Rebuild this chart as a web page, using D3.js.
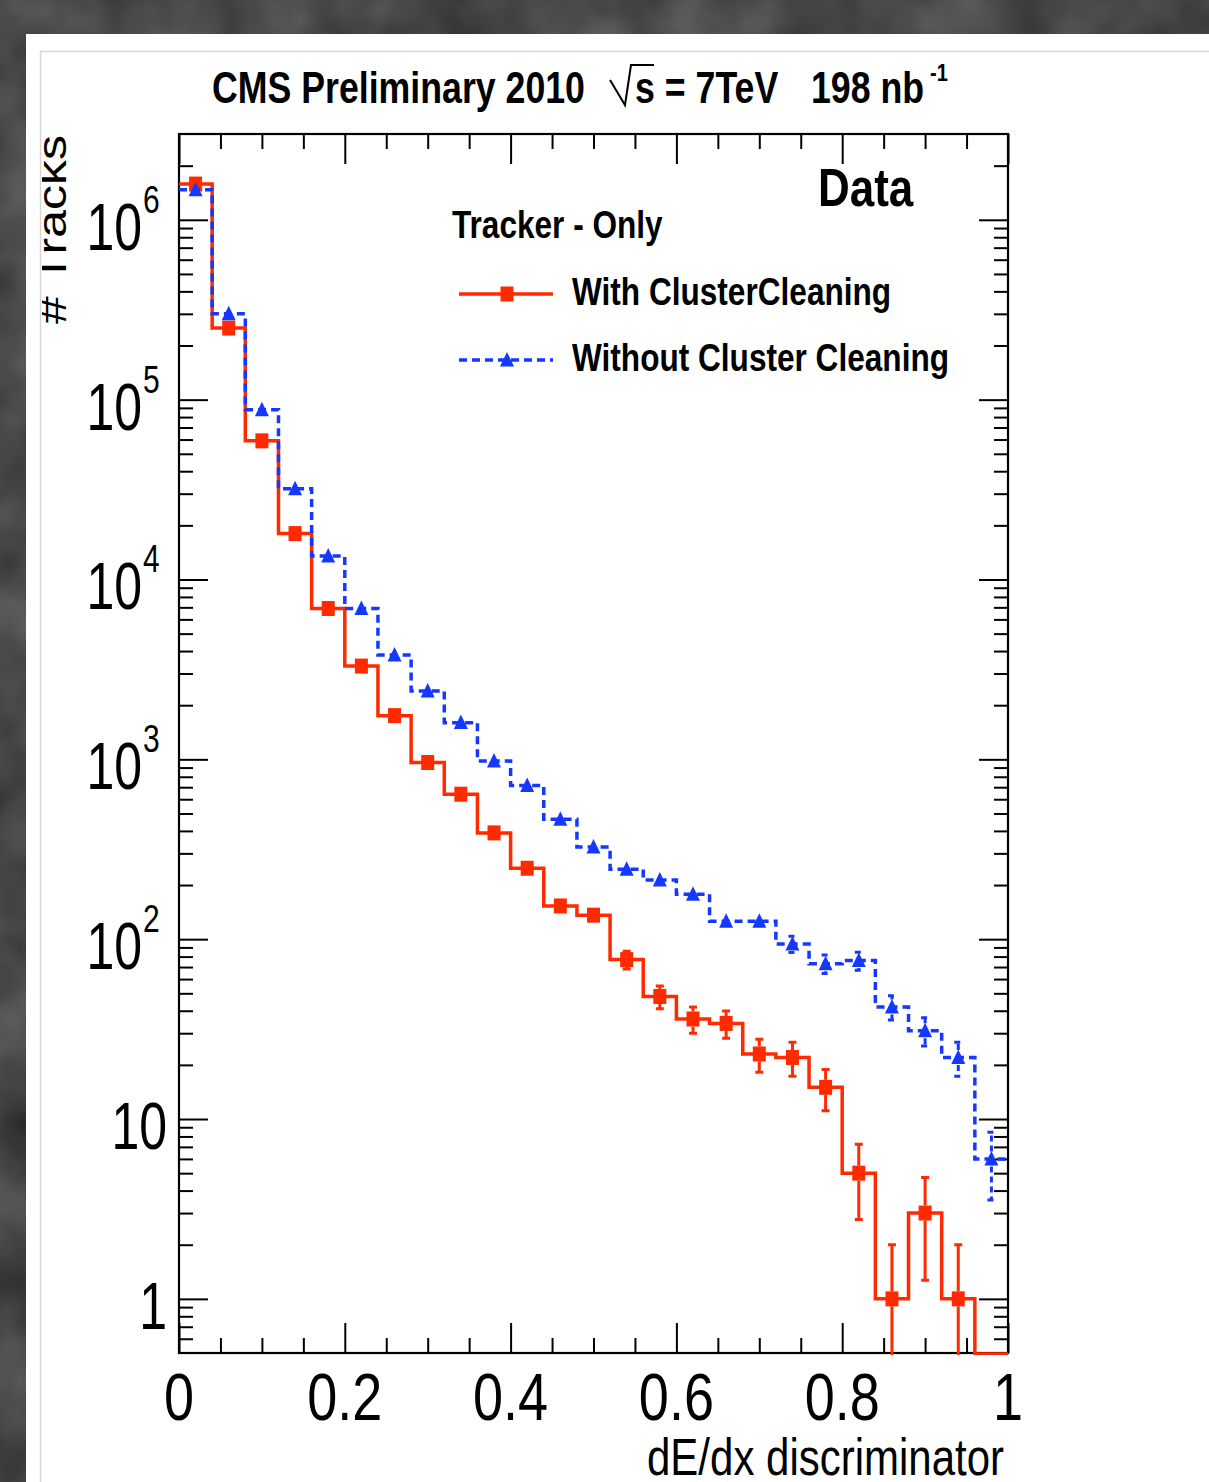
<!DOCTYPE html>
<html>
<head>
<meta charset="utf-8">
<script src="https://cdn.jsdelivr.net/npm/d3@7"></script>
<style>
html, body { margin: 0; padding: 0; background: #454545; overflow: hidden; }
text { font-family: "Liberation Sans", Arial, Helvetica, sans-serif; fill: #000; }
</style>
</head>
<body>
<script>
'use strict';

// bin centres of the dE/dx discriminator histogram (25 bins of 0.04)
var binCenters = [0.02, 0.06, 0.10, 0.14, 0.18, 0.22, 0.26, 0.30, 0.34, 0.38,
                  0.42, 0.46, 0.50, 0.54, 0.58, 0.62, 0.66, 0.70, 0.74, 0.78,
                  0.82, 0.86, 0.90, 0.94, 0.98];
var binWidth = 0.04;

var withCleaning = [1.58e6, 2.5e5, 5.9e4, 1.8e4, 6900, 3300, 1750, 960, 640, 390,
                    248, 153, 136, 77, 48, 36, 34, 23, 22, 15,
                    5, 1, 3, 1, 0];
var withoutCleaning = [1.47e6, 3.0e5, 8.8e4, 3.2e4, 1.35e4, 6900, 3800, 2400, 1600, 980,
                       715, 465, 325, 245, 213, 178, 126, 126, 94, 73,
                       76, 42, 31, 22, 6];

var xTickValues = [0, 0.2, 0.4, 0.6, 0.8, 1];
var xTickLabels = ["0", "0.2", "0.4", "0.6", "0.8", "1"];
var yDecades = [0, 1, 2, 3, 4, 5, 6];

var seriesNames = ["With ClusterCleaning", "Without Cluster Cleaning"];

var chart = {};
chart.width = 1209;
chart.height = 1482;
chart.left = 179;
chart.right = 1008;
chart.top = 134;
chart.bottom = 1353;
chart.stretch = 1.22;
chart.red = "#ff2a00";
chart.blue = "#1438ff";
chart.dash = "8,5";

chart.createXScale = function(){
    return d3.scaleLinear()
        .domain([0, 1])
        .range([chart.left, chart.right]);
};

chart.createYScale = function(){
    return d3.scaleLog()
        .domain([0.5, 3e6])
        .range([chart.bottom, chart.top]);
};

chart.appendSvg = function(domObj){
    return d3.select(domObj)
        .append("svg")
        .attr("width", chart.width)
        .attr("height", chart.height);
};

chart.addText = function(g, x, y, str, size, anchor, weight, stretch){
    return g.append("text")
        .attr("transform", "translate(" + x + "," + y + ") scale(1," + (stretch || chart.stretch) + ")")
        .attr("font-size", size)
        .attr("text-anchor", anchor || "start")
        .attr("font-weight", weight || "normal")
        .text(str);
};

chart.appendBackground = function(svg){
    var defs = svg.append("defs");
    var f = defs.append("filter")
        .attr("id", "grain")
        .attr("x", 0).attr("y", 0).attr("width", "100%").attr("height", "100%")
        .attr("color-interpolation-filters", "sRGB");
    f.append("feTurbulence")
        .attr("type", "fractalNoise")
        .attr("baseFrequency", "0.012")
        .attr("numOctaves", 3)
        .attr("seed", 7);
    f.append("feColorMatrix")
        .attr("type", "matrix")
        .attr("values", "0.28 0 0 0 0.14  0.28 0 0 0 0.14  0.28 0 0 0 0.14  0 0 0 0 1");

    defs.append("clipPath").attr("id", "plotClip")
        .append("rect")
        .attr("x", chart.left).attr("y", chart.top - 2)
        .attr("width", chart.right - chart.left + 2)
        .attr("height", chart.bottom - chart.top + 4);

    defs.append("clipPath").attr("id", "padClip")
        .append("rect")
        .attr("x", 42).attr("y", 52)
        .attr("width", chart.width).attr("height", chart.height);

    svg.append("rect")
        .attr("width", chart.width).attr("height", chart.height)
        .attr("filter", "url(#grain)");

    svg.append("rect")
        .attr("x", 26).attr("y", 34)
        .attr("width", chart.width).attr("height", chart.height)
        .attr("fill", "#fff");

    svg.append("path")
        .attr("d", "M40.5," + chart.height + "V51.5H" + chart.width)
        .attr("fill", "none")
        .attr("stroke", "#d6d6d6")
        .attr("stroke-width", 1.5);
};

chart.appendAxes = function(g){
    var xScale = chart.createXScale();
    var yScale = chart.createYScale();

    var xMinor = d3.range(0, 21)
        .filter(function(i){ return i % 4 !== 0; })
        .map(function(i){ return i * 0.05; });

    var yMinor = [];
    d3.range(-1, 7).forEach(function(k){
        d3.range(2, 10).forEach(function(m){
            var v = m * Math.pow(10, k);
            if (v > 0.5 && v < 2.9e6) yMinor.push(v);
        });
    });
    var yMajor = yDecades.map(function(k){ return Math.pow(10, k); });

    var specs = [
        [d3.axisBottom(xScale).tickValues(xTickValues).tickSize(-30), "translate(0," + chart.bottom + ")"],
        [d3.axisBottom(xScale).tickValues(xMinor).tickSize(-15), "translate(0," + chart.bottom + ")"],
        [d3.axisTop(xScale).tickValues(xTickValues).tickSize(-30), "translate(0," + chart.top + ")"],
        [d3.axisTop(xScale).tickValues(xMinor).tickSize(-15), "translate(0," + chart.top + ")"],
        [d3.axisLeft(yScale).tickValues(yMajor).tickSize(-29), "translate(" + chart.left + ",0)"],
        [d3.axisLeft(yScale).tickValues(yMinor).tickSize(-14), "translate(" + chart.left + ",0)"],
        [d3.axisRight(yScale).tickValues(yMajor).tickSize(-29), "translate(" + chart.right + ",0)"],
        [d3.axisRight(yScale).tickValues(yMinor).tickSize(-14), "translate(" + chart.right + ",0)"]
    ];

    specs.forEach(function(s){
        var ax = g.append("g")
            .attr("transform", s[1])
            .call(s[0].tickFormat(""));
        ax.select(".domain").remove();
        ax.selectAll("line").attr("stroke", "#000").attr("stroke-width", 2);
        ax.selectAll("text").remove();
    });

    g.append("rect")
        .attr("x", chart.left).attr("y", chart.top)
        .attr("width", chart.right - chart.left)
        .attr("height", chart.bottom - chart.top)
        .attr("fill", "none")
        .attr("stroke", "#000")
        .attr("stroke-width", 2.2);

    xTickValues.forEach(function(v, i){
        chart.addText(g, xScale(v), 1420, xTickLabels[i], 54, "middle");
    });

    // y labels are a bit narrower than the x labels in the reference
    yDecades.forEach(function(k){
        var y = yScale(Math.pow(10, k)) + 30;
        if (k === 0) {
            chart.addText(g, 167, y, "1", 50, "end", "normal", 1.33);
        } else if (k === 1) {
            chart.addText(g, 167, y, "10", 50, "end", "normal", 1.33);
        } else {
            chart.addText(g, 142, y, "10", 50, "end", "normal", 1.33);
            chart.addText(g, 143, y - 37, String(k), 30, "start", "normal", 1.3);
        }
    });

    chart.addText(g, 1004, 1475, "dE/dx discriminator", 42, "end");

    g.append("g")
        .attr("clip-path", "url(#padClip)")
        .append("text")
        .attr("transform", "translate(66,135) rotate(-90) scale(" + chart.stretch + ",1)")
        .attr("font-size", 41)
        .attr("text-anchor", "end")
        .text("# Tracks");
};

chart.yOf = function(yScale, v){
    return v > 0 ? yScale(v) : chart.bottom + 1;
};

chart.appendSeries = function(g, values, color, dashed, marker){
    var xScale = chart.createXScale();
    var yScale = chart.createYScale();
    var n = binCenters.length;

    var pts = binCenters.map(function(c, i){ return [c - binWidth / 2, values[i]]; });
    pts.push([binCenters[n - 1] + binWidth / 2, values[n - 1]]);

    var line = d3.line()
        .x(function(d){ return xScale(d[0]); })
        .y(function(d){ return chart.yOf(yScale, d[1]); })
        .curve(d3.curveStepAfter);

    var sg = g.append("g").attr("clip-path", "url(#plotClip)");

    sg.append("path")
        .datum(pts)
        .attr("d", line)
        .attr("fill", "none")
        .attr("stroke", color)
        .attr("stroke-width", 3.5)
        .attr("stroke-dasharray", dashed ? chart.dash : null);

    var data = binCenters.map(function(c, i){ return { x: c, v: values[i] }; })
        .filter(function(d){ return d.v > 0; });

    var half = 7.5;
    var errPath = "";
    data.forEach(function(d){
        var cx = xScale(d.x);
        var cy = yScale(d.v);
        var e = Math.sqrt(d.v);
        var yHi = yScale(d.v + e);
        var yLo = d.v - e > 0 ? yScale(d.v - e) : chart.bottom + 4;
        if (yHi < cy - half) {
            errPath += "M" + cx + "," + (cy - half) + "V" + yHi;
            errPath += "M" + (cx - 4) + "," + yHi + "H" + (cx + 4);
        }
        if (yLo > cy + half) {
            errPath += "M" + cx + "," + (cy + half) + "V" + yLo;
            if (d.v - e > 0) errPath += "M" + (cx - 4) + "," + yLo + "H" + (cx + 4);
        }
    });

    sg.append("path")
        .attr("d", errPath)
        .attr("fill", "none")
        .attr("stroke", color)
        .attr("stroke-width", 3)
        .attr("stroke-dasharray", dashed ? "6,4" : null);

    sg.selectAll(".marker-" + marker)
        .data(data)
        .enter()
            .append("path")
            .classed("marker-" + marker, true)
            .attr("transform", function(d){
                return "translate(" + xScale(d.x) + "," + yScale(d.v) + ")";
            })
            .attr("d", chart.markerPath(marker))
            .attr("fill", color);
};

chart.markerPath = function(marker){
    if (marker === "square") return "M-6.5,-7.5H6.5V7.5H-6.5Z";
    return "M0,-8L7,6.5H-7Z";
};

chart.appendLegend = function(g){
    chart.addText(g, 818, 206, "Data", 44, "start", "bold");
    chart.addText(g, 452, 238, "Tracker - Only", 31.6, "start", "bold");

    var rows = [
        { y: 294, name: seriesNames[0], color: chart.red, dashed: false, marker: "square" },
        { y: 360, name: seriesNames[1], color: chart.blue, dashed: true, marker: "triangle" }
    ];

    rows.forEach(function(r){
        g.append("line")
            .attr("x1", 459).attr("x2", 553)
            .attr("y1", r.y).attr("y2", r.y)
            .attr("stroke", r.color)
            .attr("stroke-width", 3.5)
            .attr("stroke-dasharray", r.dashed ? chart.dash : null);
        g.append("path")
            .attr("transform", "translate(507," + r.y + ")")
            .attr("d", chart.markerPath(r.marker))
            .attr("fill", r.color);
        chart.addText(g, 572, r.y + 11, r.name, 31.6, "start", "bold");
    });
};

chart.appendTitle = function(g){
    chart.addText(g, 212, 103, "CMS Preliminary 2010", 35.7, "start", "bold");
    g.append("path")
        .attr("d", "M610,80L625,105L631,65H654")
        .attr("fill", "none")
        .attr("stroke", "#000")
        .attr("stroke-width", 2);
    chart.addText(g, 635, 103, "s = 7TeV", 35.7, "start", "bold");
    chart.addText(g, 811, 103, "198 nb", 35.7, "start", "bold");
    chart.addText(g, 930, 81, "-1", 20, "start", "bold");
};

chart.run = function(){
    var svg = chart.appendSvg("body");
    chart.appendBackground(svg);
    var g = svg.append("g");
    chart.appendAxes(g);
    chart.appendSeries(g, withCleaning, chart.red, false, "square");
    chart.appendSeries(g, withoutCleaning, chart.blue, true, "triangle");
    chart.appendLegend(g);
    chart.appendTitle(g);
};

window.onload = chart.run;
</script>
</body>
</html>
